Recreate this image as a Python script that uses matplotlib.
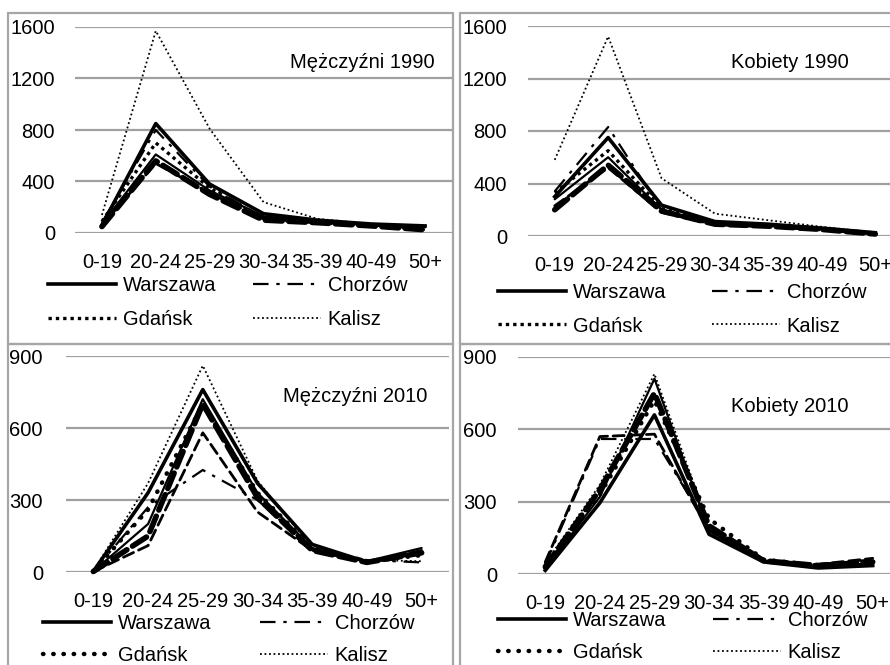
import matplotlib
matplotlib.use("Agg")
import matplotlib.pyplot as plt
from matplotlib.patches import Rectangle

# ---------------- data ----------------
categories = ["0-19", "20-24", "25-29", "30-34", "35-39", "40-49", "50+"]
cities = ["Warszawa", "Chorzów", "Gdańsk", "Kalisz"]

titles = ["Mężczyźni 1990", "Kobiety 1990", "Mężczyźni 2010", "Kobiety 2010"]
y_ticks_1990 = [0, 400, 800, 1200, 1600]
y_ticks_2010 = [0, 300, 600, 900]

# Mężczyźni 1990
m1990_warszawa = [60, 850, 380, 150, 100, 70, 55]
m1990_chorzow = [80, 800, 360, 120, 90, 65, 40]
m1990_gdansk = [90, 700, 350, 110, 80, 60, 30]
m1990_kalisz = [140, 1570, 810, 240, 110, 70, 40]
m1990_extra = [[70, 610, 330, 130, 90, 60, 45],
               [50, 560, 300, 100, 80, 55, 25],
               [60, 540, 310, 110, 85, 60, 35]]

# Kobiety 1990
k1990_warszawa = [300, 750, 235, 110, 90, 60, 25]
k1990_chorzow = [340, 830, 200, 100, 85, 55, 20]
k1990_gdansk = [330, 650, 210, 100, 80, 50, 20]
k1990_kalisz = [580, 1520, 440, 170, 120, 70, 25]
k1990_extra = [[280, 600, 200, 95, 80, 55, 20],
               [200, 540, 190, 90, 75, 50, 15],
               [230, 520, 180, 85, 70, 45, 15]]

# Mężczyźni 2010
m2010_warszawa = [3, 330, 760, 370, 115, 42, 80]
m2010_chorzow = [3, 270, 425, 300, 95, 50, 40]
m2010_gdansk = [4, 260, 700, 330, 100, 45, 70]
m2010_kalisz = [5, 370, 860, 380, 100, 50, 45]
m2010_extra = [[3, 200, 720, 330, 100, 45, 100],
               [2, 150, 700, 310, 90, 40, 80],
               [2, 110, 580, 250, 90, 40, 90]]

# Kobiety 2010
k2010_warszawa = [15, 295, 660, 165, 50, 25, 35]
k2010_chorzow = [40, 560, 560, 190, 60, 40, 60]
k2010_gdansk = [25, 330, 720, 230, 60, 35, 40]
k2010_kalisz = [45, 370, 830, 200, 55, 30, 40]
k2010_extra = [[20, 320, 810, 180, 50, 30, 45],
               [30, 350, 750, 200, 55, 35, 50],
               [50, 570, 580, 180, 55, 40, 65]]

panels = [
    (m1990_warszawa, m1990_chorzow, m1990_gdansk, m1990_kalisz, m1990_extra),
    (k1990_warszawa, k1990_chorzow, k1990_gdansk, k1990_kalisz, k1990_extra),
    (m2010_warszawa, m2010_chorzow, m2010_gdansk, m2010_kalisz, m2010_extra),
    (k2010_warszawa, k2010_chorzow, k2010_gdansk, k2010_kalisz, k2010_extra),
]

# ---------------- fonts ----------------
FAM = ["Liberation Sans", "DejaVu Sans"]
FS = 14.5
plt.rcParams["font.family"] = FAM

W, H = 890, 665
fig = plt.figure(figsize=(W / 100, H / 100), dpi=100)
fig.patch.set_facecolor("white")

def fx(px):
    return px / W

def fy(py):
    return 1 - py / H

PT = 72 / 100  # points per pixel

# panel frames
frames = [(8, 13, 453, 344), (460, 13, 895, 344), (8, 344, 453, 670), (460, 344, 895, 670)]
for (x0, y0, x1, y1) in frames:
    fig.patches.append(Rectangle((fx(x0), fy(y1)), fx(x1 - x0), (y1 - y0) / H,
                                 transform=fig.transFigure, fill=False,
                                 edgecolor="#a6a6a6", lw=1.6, zorder=0))

# axes rectangles (left, right, top, bottom) in px
ax_px = [(75, 452, 27, 233), (528, 902, 26, 236), (66, 449, 356, 572), (518, 900, 357, 574)]
title_pos = [(362, 62), (790, 62), (355, 397), (790, 406)]
# legend: left px, top px, column spacing (em), label spacing
legend_pos = [(48, 276, 1.79, 0.74), (498, 283, 2.24, 0.72),
              (43, 614, 2.39, 0.66), (498, 611, 2.29, 0.66)]
ylims = [1600, 1600, 900, 900]
yticks = [y_ticks_1990, y_ticks_1990, y_ticks_2010, y_ticks_2010]
ypads = [20, 21, 23, 21]

x = list(range(len(categories)))

for i, (l, r, t, b) in enumerate(ax_px):
    ax = fig.add_axes([fx(l), fy(b), fx(r - l), (b - t) / H])
    ax.set_facecolor("none")
    warszawa, chorzow, gdansk, kalisz, extra = panels[i]
    is2010 = i >= 2

    # unnamed extra series
    e_styles = [dict(ls="-", lw=1.6), dict(ls=(0, (3, 1.2)), lw=4.0), dict(ls=(0, (4, 2)), lw=2.0)]
    for ser, st in zip(extra, e_styles):
        ax.plot(x, ser, color="black", solid_capstyle="round", dash_capstyle="round",
                clip_on=False, zorder=3, **st)

    ax.plot(x, kalisz, color="black", lw=1.3, ls=(0, (1, 1.5)), label="Kalisz",
            clip_on=False, zorder=4)
    if is2010:
        ax.plot(x, gdansk, color="black", lw=3.2, ls=(0, (0.1, 2.2)), dash_capstyle="round",
                label="Gdańsk", clip_on=False, zorder=4)
    else:
        ax.plot(x, gdansk, color="black", lw=2.4, ls=(0, (1, 1.2)), label="Gdańsk",
                clip_on=False, zorder=4)
    ax.plot(x, chorzow, color="black", lw=1.6, ls=(0, (7, 3.5, 1.5, 3.5)), label="Chorzów",
            clip_on=False, zorder=4)
    ax.plot(x, warszawa, color="black", lw=2.6, ls="-", label="Warszawa",
            clip_on=False, zorder=5)

    ax.set_xlim(-0.5, len(categories) - 0.5)
    ax.set_ylim(0, ylims[i])
    ax.set_yticks(yticks[i])
    ax.set_xticks(x)
    ax.set_xticklabels(categories)
    ax.tick_params(axis="both", length=0, labelsize=FS)
    ax.tick_params(axis="y", pad=ypads[i] * PT)
    ax.tick_params(axis="x", pad=20 * PT)
    ax.grid(axis="y", color="#a0a0a0", lw=1.6)
    ax.set_axisbelow(True)
    for s in ax.spines.values():
        s.set_visible(False)

    tx, ty = title_pos[i]
    fig.text(fx(tx), fy(ty), titles[i], ha="center", va="center", fontsize=FS)

    handles, labels = ax.get_legend_handles_labels()
    # column-major fill -> rows: (Warszawa, Chorzów), (Gdańsk, Kalisz)
    order = [labels.index(n) for n in ["Warszawa", "Gdańsk", "Chorzów", "Kalisz"]]
    lx, ly, cs, ls_ = legend_pos[i]
    ax.legend([handles[k] for k in order], [labels[k] for k in order],
              ncol=2, loc="upper left", bbox_to_anchor=(fx(lx), fy(ly)),
              bbox_transform=fig.transFigure, frameon=False, fontsize=FS,
              handlelength=3.38, handletextpad=0.35, columnspacing=cs,
              labelspacing=ls_, borderpad=0, borderaxespad=0)

fig.savefig("out.png", dpi=100, facecolor="white")
